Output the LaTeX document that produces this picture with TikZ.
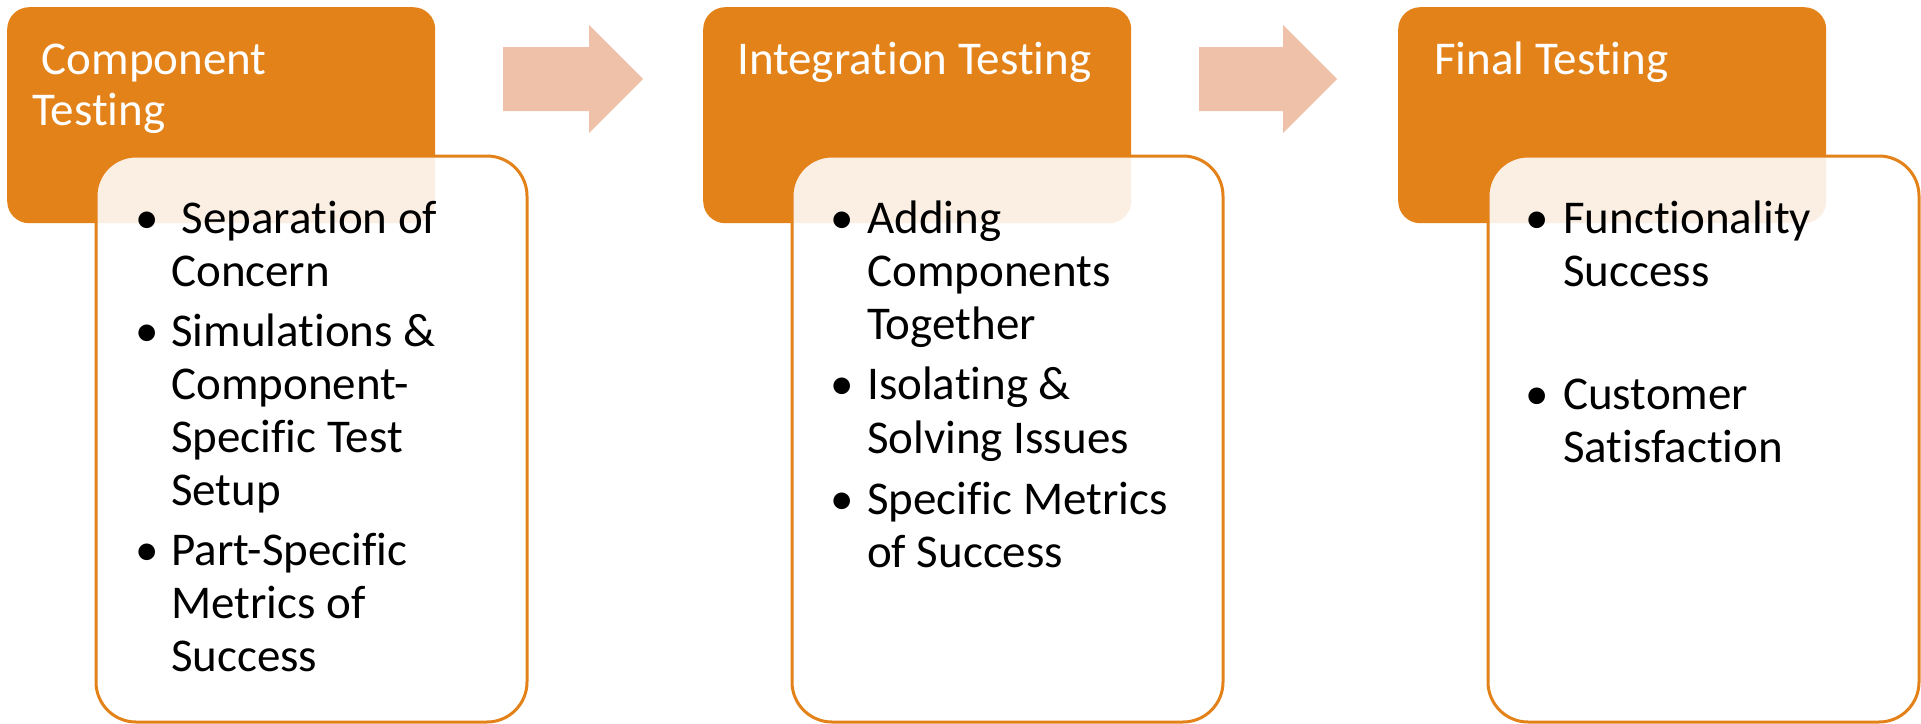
\documentclass[tikz,border=0pt]{standalone}
\usepackage{fontspec}
\setmainfont{Carlito}[Ligatures=NoCommon]
\definecolor{stageorange}{HTML}{E4821A}
\definecolor{arrowpeach}{HTML}{F0C1A9}
\begin{document}
\begin{tikzpicture}[x=1pt,y=-1pt,
  header/.style={rectangle, fill=stageorange, draw=none, rounded corners=22pt,
    anchor=north west, inner sep=0pt, minimum width=428pt, minimum height=216pt},
  detail/.style={rectangle, fill=white, fill opacity=0.88, draw=stageorange,
    line width=3pt, rounded corners=40pt, anchor=north west, inner sep=0pt,
    minimum width=431pt, minimum height=566pt},
  flowarrow/.style={fill=arrowpeach, draw=none},
  title/.style={anchor=base west, inner sep=0pt, text=white,
    font=\fontsize{47}{51}\selectfont},
  itemline/.style={anchor=base west, inner sep=0pt,
    font=\fontsize{47}{53}\selectfont},
  dot/.style={anchor=base, inner sep=0pt, font=\fontsize{47}{53}\selectfont}]
\useasboundingbox (0,0) rectangle (1921,723);

% stage headers
\node[header] (h1) at (7,7) {};
\node[header] (h2) at (703,7) {};
\node[header] (h3) at (1398,7) {};

% block arrows between the stages
\fill[flowarrow] (503,47) -- (589,47) -- (589,25) -- (643,79) -- (589,133)
  -- (589,111) -- (503,111) -- cycle;
\fill[flowarrow] (1199,47) -- (1283,47) -- (1283,25) -- (1337,79) -- (1283,133)
  -- (1283,111) -- (1199,111) -- cycle;

% detail panels, slightly see-through over the headers
\node[detail] (d1) at (94.5,154.5) {};
\node[detail] (d2) at (790.5,154.5) {};
\node[detail] (d3) at (1486.5,154.5) {};

% header titles
\node[title] (t1a) at (31,74) {\ Component};
\node[title] (t1b) at (32,125) {Testing};
\node[title] (t2) at (737,74) {Integration Testing};
\node[title] (t3) at (1434,74) {Final Testing};

% first panel
\foreach \yy [count=\k] in {233,346,565}
  \node[dot] (b1-\k) at (147,\yy) {•};
\foreach \txt/\yy [count=\k] in {{\ Separation of}/233, Concern/286,
    {Simulations \&}/346, Component-/399, {Specific Test}/452, Setup/505,
    Part-Specific/565, {Metrics of}/618, Success/671}
  \node[itemline] (l1-\k) at (171,\yy) {\txt};

% second panel
\foreach \yy [count=\k] in {233,399,514}
  \node[dot] (b2-\k) at (842,\yy) {•};
\foreach \txt/\yy [count=\k] in {Adding/233, Components/286, Together/339,
    {Isolating \&}/399, {Solving Issues}/453, {Specific Metrics}/514,
    {of Success}/567}
  \node[itemline] (l2-\k) at (867,\yy) {\txt};

% third panel
\foreach \yy [count=\k] in {233,409}
  \node[dot] (b3-\k) at (1537,\yy) {•};
\foreach \txt/\yy [count=\k] in {Functionality/233, Success/286,
    Customer/409, Satisfaction/462}
  \node[itemline] (l3-\k) at (1563,\yy) {\txt};
\end{tikzpicture}
\end{document}
